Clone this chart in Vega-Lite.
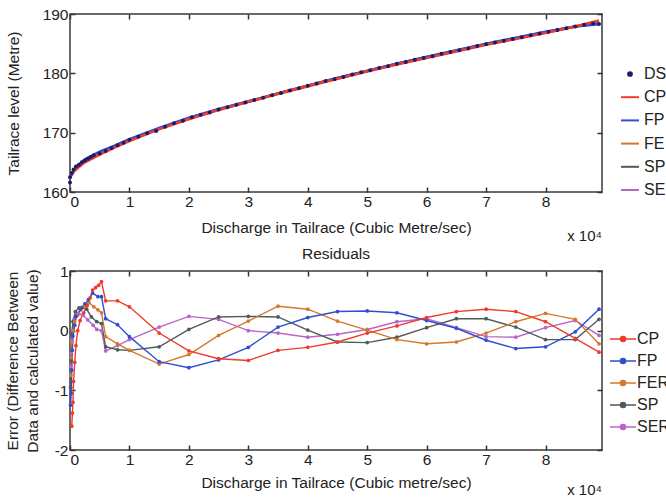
{
  "$schema": "https://vega.github.io/schema/vega-lite/v6.json",
  "padding": {"left": 4, "top": 6, "right": 0, "bottom": 0},
  "background": "white",
  "config": {
    "font": "Liberation Sans",
    "view": {"stroke": "#3a3a3a", "strokeWidth": 1.5},
    "axis": {"grid": false, "domain": false, "tickSize": -5, "tickColor": "#333", "tickWidth": 1.5, "labelFontSize": 15.5, "labelColor": "#222", "titleFontSize": 15.5, "titleFontWeight": "normal", "titleColor": "#222", "labelPadding": 7},
    "title": {"fontSize": 15.5, "fontWeight": "normal", "color": "#222"}
  },
  "datasets": {
    "fits": [
      {"s":"SE","x":0,"y":162.7},{"s":"SE","x":1000,"y":164.0},{"s":"SE","x":2500,"y":165.2},{"s":"SE","x":5000,"y":166.6},{"s":"SE","x":7500,"y":167.7},{"s":"SE","x":10000,"y":168.8},{"s":"SE","x":15000,"y":170.7},{"s":"SE","x":20000,"y":172.4},{"s":"SE","x":25000,"y":173.9},{"s":"SE","x":30000,"y":175.2},{"s":"SE","x":35000,"y":176.6},{"s":"SE","x":40000,"y":177.9},{"s":"SE","x":45000,"y":179.2},{"s":"SE","x":50000,"y":180.4},{"s":"SE","x":55000,"y":181.6},{"s":"SE","x":60000,"y":182.7},{"s":"SE","x":65000,"y":183.8},{"s":"SE","x":70000,"y":184.9},{"s":"SE","x":75000,"y":185.9},{"s":"SE","x":80000,"y":186.9},{"s":"SE","x":85000,"y":187.9},{"s":"SE","x":89000,"y":188.6},
      {"s":"SP","x":0,"y":162.8},{"s":"SP","x":1000,"y":164.0},{"s":"SP","x":2500,"y":165.3},{"s":"SP","x":5000,"y":166.6},{"s":"SP","x":7500,"y":167.7},{"s":"SP","x":10000,"y":168.8},{"s":"SP","x":15000,"y":170.7},{"s":"SP","x":20000,"y":172.4},{"s":"SP","x":25000,"y":173.9},{"s":"SP","x":30000,"y":175.2},{"s":"SP","x":35000,"y":176.6},{"s":"SP","x":40000,"y":177.9},{"s":"SP","x":45000,"y":179.2},{"s":"SP","x":50000,"y":180.4},{"s":"SP","x":55000,"y":181.6},{"s":"SP","x":60000,"y":182.7},{"s":"SP","x":65000,"y":183.8},{"s":"SP","x":70000,"y":184.9},{"s":"SP","x":75000,"y":185.9},{"s":"SP","x":80000,"y":186.9},{"s":"SP","x":85000,"y":187.9},{"s":"SP","x":89000,"y":188.5},
      {"s":"FE","x":0,"y":162.9},{"s":"FE","x":1000,"y":164.0},{"s":"FE","x":2500,"y":165.3},{"s":"FE","x":5000,"y":166.6},{"s":"FE","x":7500,"y":167.7},{"s":"FE","x":10000,"y":168.7},{"s":"FE","x":15000,"y":170.6},{"s":"FE","x":20000,"y":172.3},{"s":"FE","x":25000,"y":173.9},{"s":"FE","x":30000,"y":175.2},{"s":"FE","x":35000,"y":176.5},{"s":"FE","x":40000,"y":177.8},{"s":"FE","x":45000,"y":179.1},{"s":"FE","x":50000,"y":180.4},{"s":"FE","x":55000,"y":181.6},{"s":"FE","x":60000,"y":182.7},{"s":"FE","x":65000,"y":183.8},{"s":"FE","x":70000,"y":184.9},{"s":"FE","x":75000,"y":185.9},{"s":"FE","x":80000,"y":186.9},{"s":"FE","x":85000,"y":187.9},{"s":"FE","x":89000,"y":188.8},
      {"s":"FP","x":0,"y":162.4},{"s":"FP","x":1000,"y":164.2},{"s":"FP","x":2500,"y":165.5},{"s":"FP","x":5000,"y":166.8},{"s":"FP","x":7500,"y":167.8},{"s":"FP","x":10000,"y":168.9},{"s":"FP","x":15000,"y":170.8},{"s":"FP","x":20000,"y":172.5},{"s":"FP","x":25000,"y":174.0},{"s":"FP","x":30000,"y":175.3},{"s":"FP","x":35000,"y":176.6},{"s":"FP","x":40000,"y":177.9},{"s":"FP","x":45000,"y":179.2},{"s":"FP","x":50000,"y":180.4},{"s":"FP","x":55000,"y":181.6},{"s":"FP","x":60000,"y":182.8},{"s":"FP","x":65000,"y":183.9},{"s":"FP","x":70000,"y":185.0},{"s":"FP","x":75000,"y":186.0},{"s":"FP","x":80000,"y":187.0},{"s":"FP","x":85000,"y":187.9},{"s":"FP","x":89000,"y":188.3},
      {"s":"CP","x":0,"y":162.9},{"s":"CP","x":1000,"y":163.8},{"s":"CP","x":2500,"y":165.0},{"s":"CP","x":5000,"y":166.3},{"s":"CP","x":7500,"y":167.5},{"s":"CP","x":10000,"y":168.6},{"s":"CP","x":15000,"y":170.6},{"s":"CP","x":20000,"y":172.3},{"s":"CP","x":25000,"y":173.8},{"s":"CP","x":30000,"y":175.2},{"s":"CP","x":35000,"y":176.6},{"s":"CP","x":40000,"y":177.9},{"s":"CP","x":45000,"y":179.1},{"s":"CP","x":50000,"y":180.3},{"s":"CP","x":55000,"y":181.5},{"s":"CP","x":60000,"y":182.6},{"s":"CP","x":65000,"y":183.7},{"s":"CP","x":70000,"y":184.8},{"s":"CP","x":75000,"y":185.8},{"s":"CP","x":80000,"y":186.8},{"s":"CP","x":85000,"y":187.9},{"s":"CP","x":89000,"y":188.9}
    ],
    "ds": [
      {"s":"DS","x":0,"y":161.6},{"s":"DS","x":0,"y":162.5},{"s":"DS","x":300,"y":163.2},{"s":"DS","x":600,"y":163.8},{"s":"DS","x":1000,"y":164.3},{"s":"DS","x":1500,"y":164.6},{"s":"DS","x":2000,"y":165.0},{"s":"DS","x":2500,"y":165.3},{"s":"DS","x":3000,"y":165.6},{"s":"DS","x":3500,"y":165.9},{"s":"DS","x":4000,"y":166.2},{"s":"DS","x":5000,"y":166.5},{"s":"DS","x":6000,"y":166.9},{"s":"DS","x":7000,"y":167.4},{"s":"DS","x":8000,"y":167.9},{"s":"DS","x":9000,"y":168.3},{"s":"DS","x":10000,"y":168.8},{"s":"DS","x":11500,"y":169.3},{"s":"DS","x":13000,"y":169.9},{"s":"DS","x":14500,"y":170.3},{"s":"DS","x":16000,"y":171.0},{"s":"DS","x":17500,"y":171.6},{"s":"DS","x":19000,"y":172.0},{"s":"DS","x":20500,"y":172.6},{"s":"DS","x":22000,"y":173.0},{"s":"DS","x":23500,"y":173.4},{"s":"DS","x":25000,"y":173.9},{"s":"DS","x":26500,"y":174.3},{"s":"DS","x":28000,"y":174.7},{"s":"DS","x":29500,"y":175.1},{"s":"DS","x":31000,"y":175.5},{"s":"DS","x":32500,"y":175.9},{"s":"DS","x":34000,"y":176.3},{"s":"DS","x":35500,"y":176.7},{"s":"DS","x":37000,"y":177.1},{"s":"DS","x":38500,"y":177.5},{"s":"DS","x":40000,"y":177.9},{"s":"DS","x":41500,"y":178.3},{"s":"DS","x":43000,"y":178.7},{"s":"DS","x":44500,"y":179.0},{"s":"DS","x":46000,"y":179.4},{"s":"DS","x":47500,"y":179.8},{"s":"DS","x":49000,"y":180.2},{"s":"DS","x":50500,"y":180.5},{"s":"DS","x":52000,"y":180.9},{"s":"DS","x":53500,"y":181.2},{"s":"DS","x":55000,"y":181.6},{"s":"DS","x":56500,"y":181.9},{"s":"DS","x":58000,"y":182.3},{"s":"DS","x":59500,"y":182.6},{"s":"DS","x":61000,"y":182.9},{"s":"DS","x":62500,"y":183.3},{"s":"DS","x":64000,"y":183.6},{"s":"DS","x":65500,"y":183.9},{"s":"DS","x":67000,"y":184.2},{"s":"DS","x":68500,"y":184.6},{"s":"DS","x":70000,"y":184.9},{"s":"DS","x":71500,"y":185.2},{"s":"DS","x":73000,"y":185.5},{"s":"DS","x":74500,"y":185.8},{"s":"DS","x":76000,"y":186.1},{"s":"DS","x":77500,"y":186.4},{"s":"DS","x":79000,"y":186.7},{"s":"DS","x":80500,"y":187.0},{"s":"DS","x":82000,"y":187.3},{"s":"DS","x":83500,"y":187.6},{"s":"DS","x":85000,"y":187.9},{"s":"DS","x":86500,"y":188.2},{"s":"DS","x":88000,"y":188.4},{"s":"DS","x":89000,"y":188.3}
    ],
    "res": [
      {"s":"SER","x":100,"y":-0.6},{"s":"SER","x":200,"y":-0.38},{"s":"SER","x":300,"y":-0.16},{"s":"SER","x":400,"y":0.0},{"s":"SER","x":600,"y":0.18},{"s":"SER","x":1000,"y":0.3},{"s":"SER","x":1500,"y":0.28},{"s":"SER","x":2200,"y":0.26},{"s":"SER","x":3000,"y":0.18},{"s":"SER","x":3900,"y":0.09},{"s":"SER","x":4500,"y":0.02},{"s":"SER","x":5300,"y":0.0},{"s":"SER","x":6000,"y":-0.34},{"s":"SER","x":8000,"y":-0.25},{"s":"SER","x":10000,"y":-0.15},{"s":"SER","x":15000,"y":0.06},{"s":"SER","x":20000,"y":0.24},{"s":"SER","x":25000,"y":0.19},{"s":"SER","x":30000,"y":0.0},{"s":"SER","x":35000,"y":-0.04},{"s":"SER","x":40000,"y":-0.11},{"s":"SER","x":45000,"y":-0.06},{"s":"SER","x":50000,"y":0.02},{"s":"SER","x":55000,"y":0.15},{"s":"SER","x":60000,"y":0.2},{"s":"SER","x":65000,"y":0.05},{"s":"SER","x":70000,"y":-0.1},{"s":"SER","x":75000,"y":-0.11},{"s":"SER","x":80000,"y":0.05},{"s":"SER","x":85000,"y":0.17},{"s":"SER","x":89000,"y":-0.08},
      {"s":"SP","x":100,"y":-0.95},{"s":"SP","x":200,"y":-0.5},{"s":"SP","x":300,"y":-0.05},{"s":"SP","x":500,"y":0.15},{"s":"SP","x":900,"y":0.32},{"s":"SP","x":1500,"y":0.38},{"s":"SP","x":2000,"y":0.39},{"s":"SP","x":2800,"y":0.36},{"s":"SP","x":3600,"y":0.23},{"s":"SP","x":4500,"y":0.15},{"s":"SP","x":5300,"y":0.12},{"s":"SP","x":6000,"y":-0.27},{"s":"SP","x":8000,"y":-0.32},{"s":"SP","x":10000,"y":-0.33},{"s":"SP","x":15000,"y":-0.27},{"s":"SP","x":20000,"y":0.02},{"s":"SP","x":25000,"y":0.23},{"s":"SP","x":30000,"y":0.24},{"s":"SP","x":35000,"y":0.23},{"s":"SP","x":40000,"y":0.01},{"s":"SP","x":45000,"y":-0.19},{"s":"SP","x":50000,"y":-0.2},{"s":"SP","x":55000,"y":-0.11},{"s":"SP","x":60000,"y":0.05},{"s":"SP","x":65000,"y":0.2},{"s":"SP","x":70000,"y":0.2},{"s":"SP","x":75000,"y":0.06},{"s":"SP","x":80000,"y":-0.15},{"s":"SP","x":85000,"y":-0.15},{"s":"SP","x":89000,"y":0.19},
      {"s":"FER","x":100,"y":-0.75},{"s":"FER","x":200,"y":-0.45},{"s":"FER","x":300,"y":-0.2},{"s":"FER","x":500,"y":0.0},{"s":"FER","x":800,"y":0.15},{"s":"FER","x":1200,"y":0.25},{"s":"FER","x":1800,"y":0.35},{"s":"FER","x":2500,"y":0.42},{"s":"FER","x":3200,"y":0.47},{"s":"FER","x":4000,"y":0.4},{"s":"FER","x":4700,"y":0.35},{"s":"FER","x":5300,"y":0.3},{"s":"FER","x":6000,"y":-0.1},{"s":"FER","x":8000,"y":-0.22},{"s":"FER","x":10000,"y":-0.33},{"s":"FER","x":15000,"y":-0.56},{"s":"FER","x":20000,"y":-0.4},{"s":"FER","x":25000,"y":-0.08},{"s":"FER","x":30000,"y":0.16},{"s":"FER","x":35000,"y":0.41},{"s":"FER","x":40000,"y":0.36},{"s":"FER","x":45000,"y":0.16},{"s":"FER","x":50000,"y":0.01},{"s":"FER","x":55000,"y":-0.15},{"s":"FER","x":60000,"y":-0.22},{"s":"FER","x":65000,"y":-0.19},{"s":"FER","x":70000,"y":-0.04},{"s":"FER","x":75000,"y":0.15},{"s":"FER","x":80000,"y":0.29},{"s":"FER","x":85000,"y":0.19},{"s":"FER","x":89000,"y":-0.22},
      {"s":"FP","x":100,"y":-1.25},{"s":"FP","x":200,"y":-1.05},{"s":"FP","x":300,"y":-0.66},{"s":"FP","x":400,"y":-0.33},{"s":"FP","x":500,"y":-0.09},{"s":"FP","x":800,"y":0.09},{"s":"FP","x":1000,"y":0.24},{"s":"FP","x":1800,"y":0.36},{"s":"FP","x":2500,"y":0.45},{"s":"FP","x":3100,"y":0.52},{"s":"FP","x":3800,"y":0.63},{"s":"FP","x":4700,"y":0.57},{"s":"FP","x":5300,"y":0.57},{"s":"FP","x":6000,"y":0.2},{"s":"FP","x":8000,"y":0.1},{"s":"FP","x":10000,"y":-0.1},{"s":"FP","x":15000,"y":-0.52},{"s":"FP","x":20000,"y":-0.62},{"s":"FP","x":25000,"y":-0.49},{"s":"FP","x":30000,"y":-0.28},{"s":"FP","x":35000,"y":0.06},{"s":"FP","x":40000,"y":0.22},{"s":"FP","x":45000,"y":0.32},{"s":"FP","x":50000,"y":0.33},{"s":"FP","x":55000,"y":0.3},{"s":"FP","x":60000,"y":0.17},{"s":"FP","x":65000,"y":0.04},{"s":"FP","x":70000,"y":-0.16},{"s":"FP","x":75000,"y":-0.3},{"s":"FP","x":80000,"y":-0.27},{"s":"FP","x":85000,"y":-0.02},{"s":"FP","x":89000,"y":0.36},
      {"s":"CP","x":300,"y":-1.6},{"s":"CP","x":400,"y":-1.38},{"s":"CP","x":500,"y":-1.2},{"s":"CP","x":600,"y":-0.85},{"s":"CP","x":800,"y":-0.53},{"s":"CP","x":1000,"y":-0.25},{"s":"CP","x":1300,"y":0.0},{"s":"CP","x":1700,"y":0.17},{"s":"CP","x":2300,"y":0.3},{"s":"CP","x":2900,"y":0.42},{"s":"CP","x":3400,"y":0.55},{"s":"CP","x":3800,"y":0.68},{"s":"CP","x":4300,"y":0.72},{"s":"CP","x":4800,"y":0.76},{"s":"CP","x":5300,"y":0.82},{"s":"CP","x":6000,"y":0.5},{"s":"CP","x":8000,"y":0.5},{"s":"CP","x":10000,"y":0.4},{"s":"CP","x":15000,"y":-0.04},{"s":"CP","x":20000,"y":-0.34},{"s":"CP","x":25000,"y":-0.47},{"s":"CP","x":30000,"y":-0.5},{"s":"CP","x":35000,"y":-0.33},{"s":"CP","x":40000,"y":-0.28},{"s":"CP","x":45000,"y":-0.19},{"s":"CP","x":50000,"y":-0.04},{"s":"CP","x":55000,"y":0.08},{"s":"CP","x":60000,"y":0.22},{"s":"CP","x":65000,"y":0.32},{"s":"CP","x":70000,"y":0.36},{"s":"CP","x":75000,"y":0.32},{"s":"CP","x":80000,"y":0.15},{"s":"CP","x":85000,"y":-0.13},{"s":"CP","x":89000,"y":-0.36}
    ]
  },
  "spacing": 0,
  "resolve": {"scale": {"color": "independent", "x": "independent", "y": "independent"}, "legend": {"color": "independent"}},
  "vconcat": [
    {
      "width": 532,
      "height": 178,
      "resolve": {"axis": {"x": "independent", "y": "independent"}},
      "layer": [
        {
          "data": {"name": "fits"},
          "mark": {"type": "line", "strokeWidth": 2.6},
          "encoding": {
            "x": {"field": "x", "type": "quantitative", "scale": {"domain": [0, 89500], "nice": false, "zero": false},
                  "axis": {"orient": "bottom", "values": [0,10000,20000,30000,40000,50000,60000,70000,80000], "labelExpr": "datum.value/10000", "title": "Discharge in Tailrace (Cubic Metre/sec)", "titlePadding": 11, "labelPadding": 7}},
            "y": {"field": "y", "type": "quantitative", "scale": {"domain": [160, 190], "nice": false, "zero": false},
                  "axis": {"values": [160,170,180,190], "title": "Tailrace level (Metre)", "titlePadding": 21}},
            "color": {"field": "s", "type": "nominal",
                      "scale": {"domain": ["DS","CP","FP","FE","SP","SE"], "range": ["#1c1c6b","#ee3b2b","#2f4fcf","#d4782a","#4f5b5b","#b865c8"]},
                      "legend": {"title": null, "orient": "none", "legendX": 550, "legendY": 50, "padding": 0, "labelFontSize": 16, "labelColor": "#222", "rowPadding": 5.2, "labelOffset": 4, "symbolType": "stroke", "symbolSize": 324, "symbolStrokeWidth": 2,
                                 "encode": {"symbols": {"update": {
                                   "shape": {"signal": "datum.value === 'DS' ? 'circle' : 'stroke'"},
                                   "size": {"signal": "datum.value === 'DS' ? 14 : 324"},
                                   "fill": {"signal": "datum.value === 'DS' ? '#1c1c6b' : 'transparent'"},
                                   "stroke": {"signal": "{'DS':'#1c1c6b','CP':'#ee3b2b','FP':'#2f4fcf','FE':'#d4782a','SP':'#4f5b5b','SE':'#b865c8'}[datum.value]"}
                                 }}}}}
          }
        },
        {
          "data": {"name": "ds"},
          "mark": {"type": "circle", "size": 16, "opacity": 1},
          "encoding": {
            "x": {"field": "x", "type": "quantitative", "scale": {"domain": [0, 89500], "nice": false, "zero": false}, "axis": null},
            "y": {"field": "y", "type": "quantitative", "scale": {"domain": [160, 190], "nice": false, "zero": false}, "axis": null},
            "color": {"field": "s", "type": "nominal"}
          }
        },
        {
          "data": {"values": [{"t": "x 10⁴"}]},
          "mark": {"type": "text", "align": "right", "baseline": "middle", "fontSize": 15, "color": "#222"},
          "encoding": {
            "text": {"field": "t"},
            "x": {"datum": 89500, "type": "quantitative", "scale": {"domain": [0, 89500], "nice": false, "zero": false},
                  "axis": {"orient": "top", "values": [0,10000,20000,30000,40000,50000,60000,70000,80000], "labels": false, "title": null}},
            "y": {"datum": 152.6, "type": "quantitative", "scale": {"domain": [160, 190], "nice": false, "zero": false},
                  "axis": {"orient": "right", "values": [160,170,180,190], "labels": false, "title": null}}
          }
        }
      ]
    },
    {
      "width": 532,
      "height": 179,
      "title": {"text": "Residuals", "offset": 2},
      "resolve": {"axis": {"x": "independent", "y": "independent"}},
      "layer": [
        {
          "data": {"name": "res"},
          "mark": {"type": "line", "strokeWidth": 1.4, "point": {"filled": true, "size": 14}},
          "encoding": {
            "x": {"field": "x", "type": "quantitative", "scale": {"domain": [0, 89500], "nice": false, "zero": false},
                  "axis": {"orient": "bottom", "values": [0,10000,20000,30000,40000,50000,60000,70000,80000], "labelExpr": "datum.value/10000", "title": "Discharge in Tailrace (Cubic metre/sec)", "titlePadding": 8, "labelPadding": 7}},
            "y": {"field": "y", "type": "quantitative", "scale": {"domain": [-2, 1], "nice": false, "zero": false},
                  "axis": {"values": [-2,-1,0,1], "labelExpr": "'' + datum.value", "title": ["Error (Difference Between", "Data and calculated value)"], "titlePadding": 14, "titleLineHeight": 20}},
            "color": {"field": "s", "type": "nominal",
                      "scale": {"domain": ["CP","FP","FER","SP","SER"], "range": ["#ee3b2b","#2f4fcf","#d4782a","#4f5b5b","#b865c8"]},
                      "legend": {"title": null, "orient": "none", "legendX": 539, "legendY": 54, "padding": 0, "labelFontSize": 16, "labelColor": "#222", "rowPadding": -0.8, "labelOffset": 0, "symbolType": "M-1,0H1M-0.2,0A0.2,0.2,0,1,0,0.2,0A0.2,0.2,0,1,0,-0.2,0Z", "symbolSize": 676, "symbolStrokeWidth": 1.4,
                                 "encode": {"symbols": {"update": {
                                   "fill": {"signal": "{'CP':'#ee3b2b','FP':'#2f4fcf','FER':'#d4782a','SP':'#4f5b5b','SER':'#b865c8'}[datum.value]"},
                                   "stroke": {"signal": "{'CP':'#ee3b2b','FP':'#2f4fcf','FER':'#d4782a','SP':'#4f5b5b','SER':'#b865c8'}[datum.value]"}
                                 }}}}}
          }
        },
        {
          "data": {"values": [{"t": "x 10⁴"}]},
          "mark": {"type": "text", "align": "right", "baseline": "middle", "fontSize": 15, "color": "#222"},
          "encoding": {
            "text": {"field": "t"},
            "x": {"datum": 89500, "type": "quantitative", "scale": {"domain": [0, 89500], "nice": false, "zero": false},
                  "axis": {"orient": "top", "values": [0,10000,20000,30000,40000,50000,60000,70000,80000], "labels": false, "title": null}},
            "y": {"datum": -2.67, "type": "quantitative", "scale": {"domain": [-2, 1], "nice": false, "zero": false},
                  "axis": {"orient": "right", "values": [-2,-1,0,1], "labels": false, "title": null}}
          }
        }
      ]
    }
  ]
}
